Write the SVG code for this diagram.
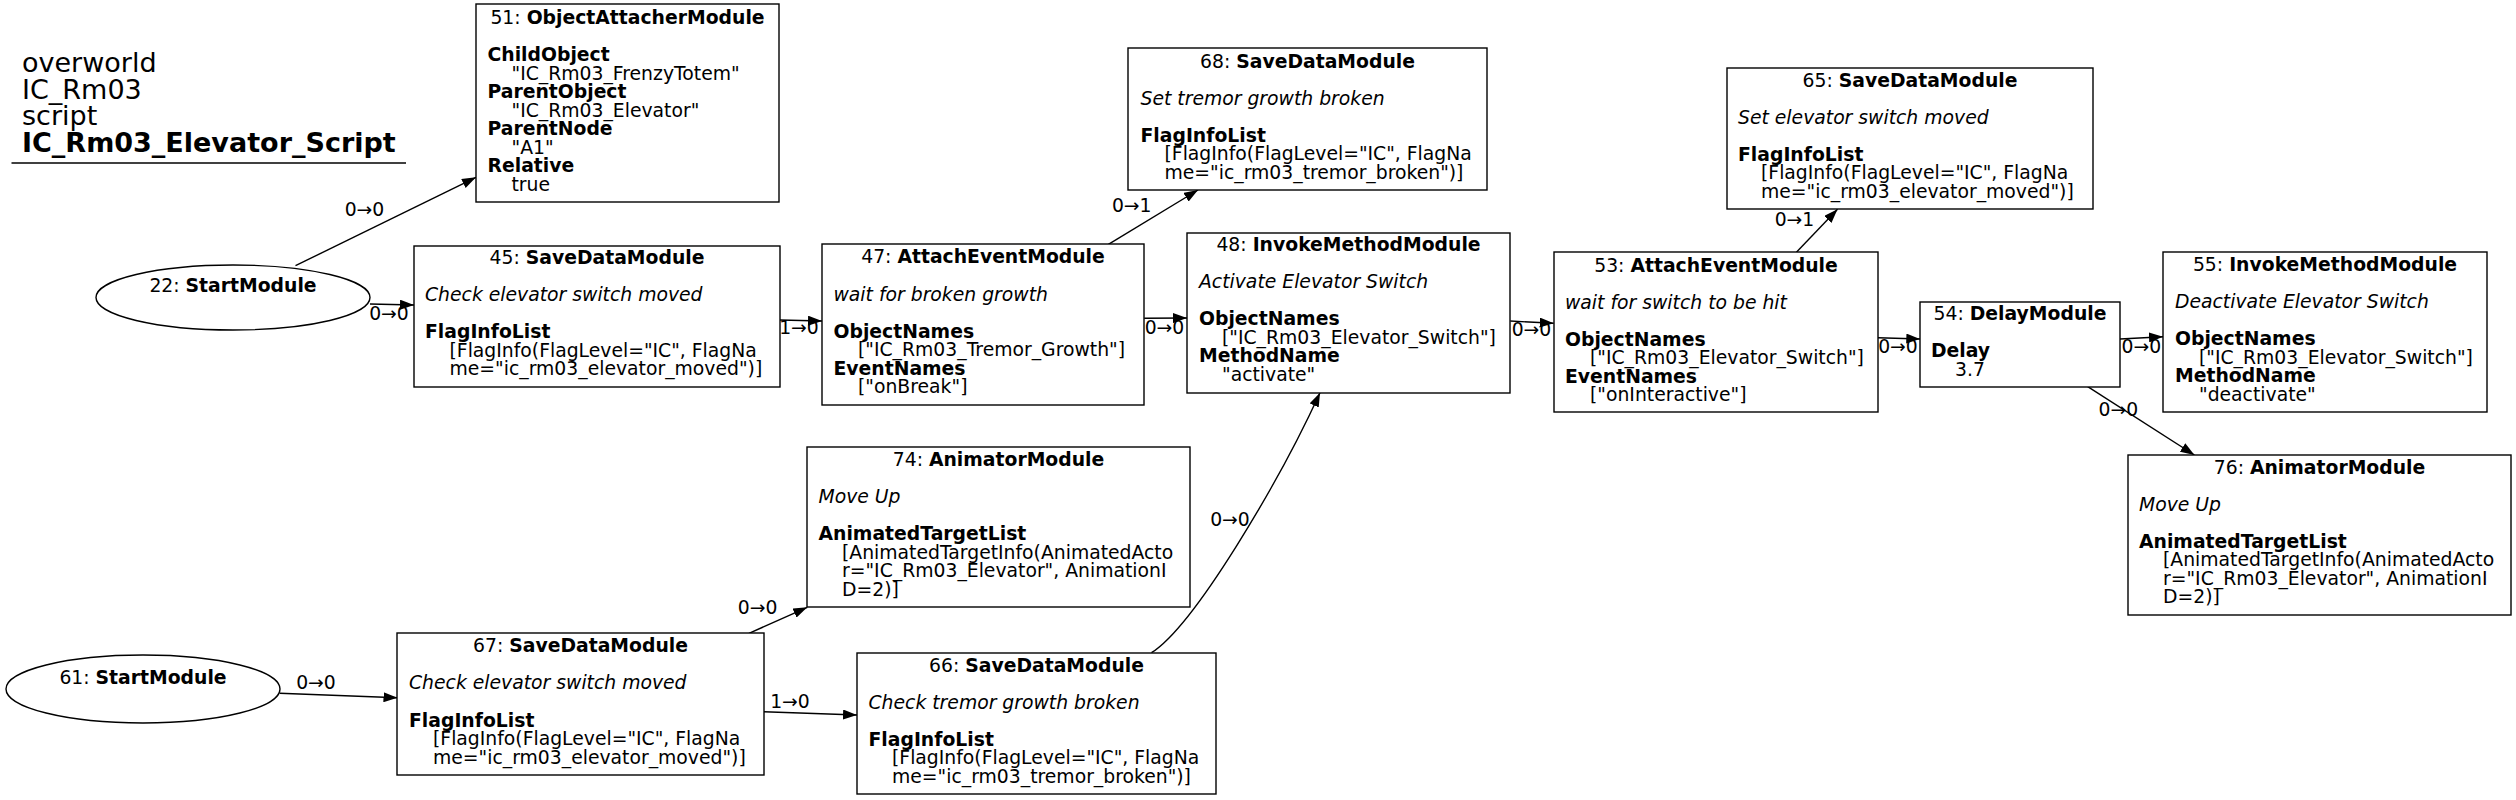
<svg xmlns="http://www.w3.org/2000/svg" width="2516" height="800" viewBox="0 0 2516 800">
<style>
text{font-family:"DejaVu Sans","Liberation Sans",sans-serif;font-size:18.8px;fill:#000}
.c{text-anchor:middle}
.b{font-weight:bold}
.i{font-style:italic}
.g{font-size:27px}
.box{fill:#fff;stroke:#000;stroke-width:1.4}
.e{fill:none;stroke:#000;stroke-width:1.4;marker-end:url(#arr)}
</style>
<defs>
<marker id="arr" markerWidth="14" markerHeight="10" refX="14" refY="5" orient="auto" markerUnits="userSpaceOnUse"><path d="M0,0 L14,5 L0,10 z" fill="#000"/></marker>
</defs>
<rect x="0" y="0" width="2516" height="800" fill="#fff"/>
<g id="title">
<text class="g" x="22" y="72">overworld</text>
<text class="g" x="22" y="98.5">IC_Rm03</text>
<text class="g" x="22" y="125">script</text>
<text class="g b" x="22" y="151.5">IC_Rm03_Elevator_Script</text>
<line x1="11.5" y1="163" x2="406" y2="163" stroke="#000" stroke-width="1.4"/>
</g>
<g id="edges">
<path class="e" d="M295.5,265.7 L476,177.3"/>
<text class="c" x="364.5" y="216">0→0</text>
<path class="e" d="M370,304 L414,305"/>
<text class="c" x="389" y="319.5">0→0</text>
<path class="e" d="M780,320 L822,321"/>
<text class="c" x="799" y="334">1→0</text>
<path class="e" d="M1108.4,244.3 L1198,190"/>
<text class="c" x="1131.7" y="211.7">0→1</text>
<path class="e" d="M1144.2,318.3 L1187,318"/>
<text class="c" x="1164.5" y="333.5">0→0</text>
<path class="e" d="M1510.3,321 L1553.7,323.3"/>
<text class="c" x="1531.5" y="336">0→0</text>
<path class="e" d="M1796.4,252.3 L1837.5,209.3"/>
<text class="c" x="1794.5" y="226">0→1</text>
<path class="e" d="M1878,337.7 L1920.3,339"/>
<text class="c" x="1898" y="353.3">0→0</text>
<path class="e" d="M2120,339 L2163,336.7"/>
<text class="c" x="2141.3" y="352.7">0→0</text>
<path class="e" d="M2087.7,386.7 L2194.4,455"/>
<text class="c" x="2118.3" y="416">0→0</text>
<path class="e" d="M279.6,693.3 L397.5,697.7"/>
<text class="c" x="316" y="689.3">0→0</text>
<path class="e" d="M749,633.3 L807.3,607.3"/>
<text class="c" x="757.6" y="614">0→0</text>
<path class="e" d="M763.8,711.7 L857,715"/>
<text class="c" x="790" y="708.3">1→0</text>
<path class="e" d="M1151.5,652.7 C1195,625 1280,480 1320,392.7"/>
<text class="c" x="1230" y="526">0→0</text>
</g>
<g id="n22">
<ellipse class="box" cx="233" cy="297.5" rx="137" ry="32.5"/>
<text class="c" x="233" y="292">22: <tspan class="b">StartModule</tspan></text>
</g>
<g id="n61">
<ellipse class="box" cx="143" cy="689" rx="137" ry="34"/>
<text class="c" x="143" y="683.5">61: <tspan class="b">StartModule</tspan></text>
</g>
<g id="n51">
<rect class="box" x="476" y="4" width="303" height="198"/>
<text class="c" x="627.5" y="24">51: <tspan class="b">ObjectAttacherModule</tspan></text>
<text class="b" x="487.5" y="61">ChildObject</text>
<text x="511.5" y="79.5">"IC_Rm03_FrenzyTotem"</text>
<text class="b" x="487.5" y="98">ParentObject</text>
<text x="511.5" y="116.5">"IC_Rm03_Elevator"</text>
<text class="b" x="487.5" y="135">ParentNode</text>
<text x="511.5" y="153.5">"A1"</text>
<text class="b" x="487.5" y="172">Relative</text>
<text x="511.5" y="190.5">true</text>
</g>
<g id="n45">
<rect class="box" x="414" y="246" width="366" height="141"/>
<text class="c" x="597" y="263.5">45: <tspan class="b">SaveDataModule</tspan></text>
<text class="i" x="425" y="301">Check elevator switch moved</text>
<text class="b" x="425" y="338">FlagInfoList</text>
<text x="449.5" y="356.5">[FlagInfo(FlagLevel="IC", FlagNa</text>
<text x="449.5" y="375">me="ic_rm03_elevator_moved")]</text>
</g>
<g id="n47">
<rect class="box" x="822" y="244" width="322" height="161"/>
<text class="c" x="983" y="263">47: <tspan class="b">AttachEventModule</tspan></text>
<text class="i" x="833.5" y="300.5">wait for broken growth</text>
<text class="b" x="833.5" y="337.5">ObjectNames</text>
<text x="858" y="356">["IC_Rm03_Tremor_Growth"]</text>
<text class="b" x="833.5" y="374.5">EventNames</text>
<text x="858" y="393">["onBreak"]</text>
</g>
<g id="n68">
<rect class="box" x="1128" y="48" width="359" height="142"/>
<text class="c" x="1307.5" y="67.5">68: <tspan class="b">SaveDataModule</tspan></text>
<text class="i" x="1140.5" y="104.5">Set tremor growth broken</text>
<text class="b" x="1140.5" y="141.5">FlagInfoList</text>
<text x="1164.5" y="160">[FlagInfo(FlagLevel="IC", FlagNa</text>
<text x="1164.5" y="178.5">me="ic_rm03_tremor_broken")]</text>
</g>
<g id="n48">
<rect class="box" x="1187" y="233" width="323" height="160"/>
<text class="c" x="1348.5" y="251">48: <tspan class="b">InvokeMethodModule</tspan></text>
<text class="i" x="1199" y="288">Activate Elevator Switch</text>
<text class="b" x="1199" y="325">ObjectNames</text>
<text x="1222" y="343.5">["IC_Rm03_Elevator_Switch"]</text>
<text class="b" x="1199" y="362">MethodName</text>
<text x="1222" y="380.5">"activate"</text>
</g>
<g id="n53">
<rect class="box" x="1554" y="252" width="324" height="160"/>
<text class="c" x="1716" y="271.5">53: <tspan class="b">AttachEventModule</tspan></text>
<text class="i" x="1565" y="308.5">wait for switch to be hit</text>
<text class="b" x="1565" y="345.5">ObjectNames</text>
<text x="1590" y="364">["IC_Rm03_Elevator_Switch"]</text>
<text class="b" x="1565" y="382.5">EventNames</text>
<text x="1590" y="401">["onInteractive"]</text>
</g>
<g id="n65">
<rect class="box" x="1727" y="68" width="366" height="141"/>
<text class="c" x="1910" y="86.5">65: <tspan class="b">SaveDataModule</tspan></text>
<text class="i" x="1738" y="123.5">Set elevator switch moved</text>
<text class="b" x="1738" y="160.5">FlagInfoList</text>
<text x="1761" y="179">[FlagInfo(FlagLevel="IC", FlagNa</text>
<text x="1761" y="197.5">me="ic_rm03_elevator_moved")]</text>
</g>
<g id="n54">
<rect class="box" x="1920" y="302" width="200" height="85"/>
<text class="c" x="2020" y="320">54: <tspan class="b">DelayModule</tspan></text>
<text class="b" x="1931" y="357">Delay</text>
<text x="1955" y="375.5">3.7</text>
</g>
<g id="n55">
<rect class="box" x="2163" y="252" width="324" height="160"/>
<text class="c" x="2325" y="271">55: <tspan class="b">InvokeMethodModule</tspan></text>
<text class="i" x="2175" y="308">Deactivate Elevator Switch</text>
<text class="b" x="2175" y="345">ObjectNames</text>
<text x="2199" y="363.5">["IC_Rm03_Elevator_Switch"]</text>
<text class="b" x="2175" y="382">MethodName</text>
<text x="2199" y="400.5">"deactivate"</text>
</g>
<g id="n76">
<rect class="box" x="2128" y="455" width="383" height="160"/>
<text class="c" x="2319.5" y="473.5">76: <tspan class="b">AnimatorModule</tspan></text>
<text class="i" x="2139" y="510.5">Move Up</text>
<text class="b" x="2139" y="547.5">AnimatedTargetList</text>
<text x="2163" y="566">[AnimatedTargetInfo(AnimatedActo</text>
<text x="2163" y="584.5">r="IC_Rm03_Elevator", AnimationI</text>
<text x="2163" y="603">D=2)]</text>
</g>
<g id="n74">
<rect class="box" x="807" y="447" width="383" height="160"/>
<text class="c" x="998.5" y="466">74: <tspan class="b">AnimatorModule</tspan></text>
<text class="i" x="818.5" y="503">Move Up</text>
<text class="b" x="818.5" y="540">AnimatedTargetList</text>
<text x="842" y="558.5">[AnimatedTargetInfo(AnimatedActo</text>
<text x="842" y="577">r="IC_Rm03_Elevator", AnimationI</text>
<text x="842" y="595.5">D=2)]</text>
</g>
<g id="n67">
<rect class="box" x="397" y="633" width="367" height="142"/>
<text class="c" x="580.5" y="652">67: <tspan class="b">SaveDataModule</tspan></text>
<text class="i" x="409" y="689">Check elevator switch moved</text>
<text class="b" x="409" y="726.5">FlagInfoList</text>
<text x="433" y="745">[FlagInfo(FlagLevel="IC", FlagNa</text>
<text x="433" y="763.5">me="ic_rm03_elevator_moved")]</text>
</g>
<g id="n66">
<rect class="box" x="857" y="653" width="359" height="141"/>
<text class="c" x="1036.5" y="672">66: <tspan class="b">SaveDataModule</tspan></text>
<text class="i" x="868.5" y="708.5">Check tremor growth broken</text>
<text class="b" x="868.5" y="745.5">FlagInfoList</text>
<text x="892" y="764">[FlagInfo(FlagLevel="IC", FlagNa</text>
<text x="892" y="782.5">me="ic_rm03_tremor_broken")]</text>
</g>
</svg>
